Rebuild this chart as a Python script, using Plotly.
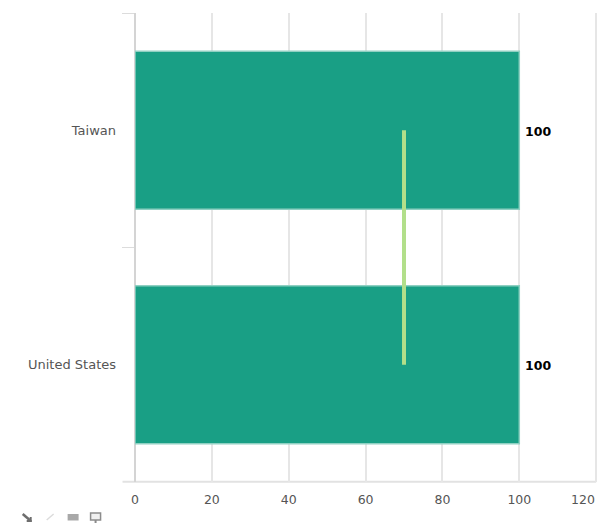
import plotly.graph_objects as go

countries = ["Taiwan", "United States"]
values = [100, 100]
target = [70, 70]
x_ticks = [0, 20, 40, 60, 80, 100, 120]

BAR = "#199f85"
BAR_EDGE = "#8fd0c2"
TARGET = "#b2df8a"
GRID = "#e6e6e6"
TEXT = "#555555"
ICON = "#8c8c8c"
FONT = "DejaVu Sans"

# Plot area size in pixels: the x range runs slightly past 120 so its gridline stays visible
PLOT_W = 465.85
PLOT_H = 469
LEFT = 134.5
BOTTOM = 482

fig = go.Figure()
fig.add_trace(go.Bar(
    y=countries, x=values, orientation="h",
    marker=dict(color=BAR, line=dict(color=BAR_EDGE, width=1.5)),
    hoverinfo="skip",
))
# Reference line joining the target value of each country
fig.add_trace(go.Scatter(
    y=countries, x=target, mode="lines",
    line=dict(color=TARGET, width=4), hoverinfo="skip",
))

# Value labels at the end of each bar
for country, value in zip(countries, values):
    fig.add_annotation(
        x=value, y=country, text=f"<b>{value}</b>", showarrow=False,
        xanchor="left", yanchor="middle", xshift=4, yshift=-1,
        font=dict(family=FONT, size=12.5, color="#000000"),
    )

# The last tick label is pulled inward so it stays inside the page
fig.add_annotation(
    x=x_ticks[-1], yref="paper", y=0, text=str(x_ticks[-1]), showarrow=False,
    xanchor="center", yanchor="middle", xshift=-13, yshift=-17,
    font=dict(family=FONT, size=12.5, color=TEXT),
)


# Small toolbar glyphs under the chart, in paper coordinates
def px(x, y):
    return (x - LEFT) / PLOT_W, (BOTTOM - y) / PLOT_H


def icon_line(x0, y0, x1, y1, color, width):
    a, b = px(x0, y0)
    c, d = px(x1, y1)
    return dict(type="line", xref="paper", yref="paper", x0=a, y0=b, x1=c, y1=d,
                line=dict(color=color, width=width))


def icon_rect(x0, y0, x1, y1, color, fill=True):
    a, b = px(x0, y0)
    c, d = px(x1, y1)
    return dict(type="rect", xref="paper", yref="paper", x0=a, y0=b, x1=c, y1=d,
                fillcolor=color if fill else "#f0f0f0",
                line=dict(color=color, width=0 if fill else 1.5))


shapes = [
    icon_line(22, 514, 29, 520, "#6e6e6e", 2.5),
    icon_line(30, 517, 30, 522, "#6e6e6e", 2),
    icon_line(26, 521, 31, 521, "#6e6e6e", 2),
    icon_line(46, 520, 53, 514, "#dcdcdc", 1.5),
    icon_rect(67, 514, 78, 520.5, "#a8a8a8"),
    icon_rect(90, 513, 100, 520, ICON, fill=False),
    icon_line(95, 520, 95, 523, ICON, 2),
    # Baseline under the plot, running out to the category ticks
    dict(type="line", xref="paper", yref="paper", layer="below",
         x0=-12.5 / PLOT_W, x1=462 / PLOT_W, y0=0.0005, y1=0.0005,
         line=dict(color="#e2e2e2", width=2)),
]

fig.update_layout(
    width=603, height=527,
    margin=dict(l=LEFT, r=603 - LEFT - PLOT_W, t=13, b=527 - BOTTOM),
    paper_bgcolor="#ffffff", plot_bgcolor="#ffffff",
    showlegend=False, bargap=0.326,
    font=dict(family=FONT, size=12, color=TEXT),
    shapes=shapes,
    xaxis=dict(
        range=[0, 121], tickmode="array", tickvals=x_ticks,
        ticktext=[str(t) if t != x_ticks[-1] else "" for t in x_ticks],
        showgrid=True, gridcolor=GRID, gridwidth=2,
        zeroline=True, zerolinecolor="#d4d4d4", zerolinewidth=2,
        showline=False, ticks="", ticklen=0, ticklabelstandoff=8,
        tickfont=dict(family=FONT, size=12.5, color=TEXT),
    ),
    yaxis=dict(
        autorange="reversed", type="category",
        showgrid=False, zeroline=False, showline=False,
        ticks="outside", ticklen=12, tickcolor="#dcdcdc", tickwidth=1,
        tickson="boundaries", ticklabelstandoff=18,
        tickfont=dict(family=FONT, size=13, color=TEXT),
    ),
)

fig.write_html("out.html", config=dict(displayModeBar=False))
